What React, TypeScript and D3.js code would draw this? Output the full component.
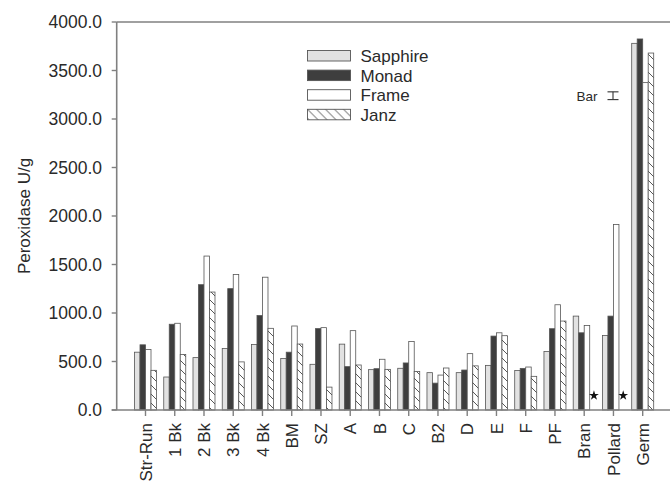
import React from "react";
import * as d3 from "d3";

const categories = ["Str-Run", "1 Bk", "2 Bk", "3 Bk", "4 Bk", "BM", "SZ", "A", "B", "C", "B2", "D", "E", "F", "PF", "Bran", "Pollard", "Germ"];
const seriesNames = ["Sapphire", "Monad", "Frame", "Janz"];
const sapphire = [596, 340, 540, 634, 676, 530, 471, 679, 416, 430, 385, 385, 460, 408, 604, 968, 769, 3780];
const monad = [672, 884, 1292, 1251, 974, 596, 839, 447, 426, 485, 277, 412, 762, 429, 838, 796, 968, 3825];
const frame = [624, 894, 1587, 1397, 1369, 866, 849, 818, 523, 707, 360, 581, 796, 443, 1085, 872, 1912, 3375];
const janz: (number | null)[] = [409, 572, 1216, 496, 842, 680, 236, 464, 419, 398, 433, 455, 766, 347, 917, null, null, 3680];
const yTicks = [0, 500, 1000, 1500, 2000, 2500, 3000, 3500, 4000];
const lsdLow = 3200;
const lsdHigh = 3280;

const W = 670;
const H = 485;
const FONT = "'Liberation Sans', Arial, sans-serif";
const TXT = "#2a2a2a";
const AX = "#808080";
const STROKE = "#555";

export default function App() {
  const series = [sapphire, monad, frame, janz];
  const fills = ["#e2e2e2", "#3e3e3e", "#ffffff", "url(#hatch)"];
  const y = d3.scaleLinear().domain([0, 4000]).range([410, 22]);
  const step = (642.7 - 145.5) / 17;
  const x = d3.scaleBand<string>().domain(categories).range([145.5 - step / 2, 642.7 + step / 2]).paddingInner(0).paddingOuter(0);
  const inner = d3.scaleBand<string>().domain(seriesNames).range([-11, 11]).padding(0);
  const bw = inner.bandwidth();
  const fmt = d3.format(".1f");
  const star = d3.symbol().type(d3.symbolStar).size(30)() as string;
  const axisLeft = 116.7;

  return (
    <svg width={W} height={H} style={{ position: "absolute", left: 0, top: 0, background: "#fff" }} fontFamily={FONT}>
      <defs>
        <pattern id="hatch" patternUnits="userSpaceOnUse" width={9} height={9}>
          <rect width={9} height={9} fill="#fff" />
          <path d="M-2,-2 L11,11 M-2,7 L2,11 M7,-2 L11,2" stroke="#444" strokeWidth={0.9} />
        </pattern>
      </defs>
      <rect x={0} y={0} width={W} height={H} fill="#fff" />

      {/* bars */}
      {categories.map((c, i) => {
        const cx = (x(c) as number) + x.bandwidth() / 2;
        return (
          <g key={c}>
            {series.map((s, k) => {
              const v = s[i];
              const bx = cx + (inner(seriesNames[k]) as number);
              if (v == null) {
                return (
                  <path key={k} d={star} transform={`translate(${bx + bw / 2 + 1.5},${395.5})`} fill="#111" />
                );
              }
              return (
                <rect
                  key={k}
                  x={bx}
                  y={y(v)}
                  width={bw}
                  height={y(0) - y(v)}
                  fill={fills[k]}
                  stroke={STROKE}
                  strokeWidth={0.8}
                />
              );
            })}
          </g>
        );
      })}

      {/* axes frame */}
      <line x1={axisLeft} x2={axisLeft} y1={y(4000)} y2={y(0)} stroke={AX} strokeWidth={1.6} />
      <line x1={axisLeft} x2={W} y1={y(4000)} y2={y(4000)} stroke={AX} strokeWidth={1.6} />
      <line x1={axisLeft - 5} x2={W} y1={y(0)} y2={y(0)} stroke={AX} strokeWidth={1.6} />

      {yTicks.map((t) => (
        <g key={t}>
          <line x1={axisLeft - 5} x2={axisLeft} y1={y(t)} y2={y(t)} stroke={AX} strokeWidth={1.4} />
          <text x={102} y={y(t)} dy="0.36em" textAnchor="end" fontSize={17.5} fill={TXT}>
            {fmt(t)}
          </text>
        </g>
      ))}

      {categories.map((c) => {
        const cx = (x(c) as number) + x.bandwidth() / 2;
        return (
          <g key={c}>
            <line x1={cx} x2={cx} y1={y(0)} y2={y(0) + 6} stroke={AX} strokeWidth={1.4} />
            <text
              transform={`translate(${cx},${423}) rotate(-90)`}
              textAnchor="end"
              dy="0.36em"
              fontSize={17}
              fill={TXT}
            >
              {c}
            </text>
          </g>
        );
      })}

      <text transform={`translate(${24},${216}) rotate(-90)`} textAnchor="middle" dy="0.36em" fontSize={17} fill={TXT}>
        Peroxidase U/g
      </text>

      {/* legend */}
      {seriesNames.map((n, k) => (
        <g key={n} transform={`translate(307.5,${50.5 + k * 19.6})`}>
          <rect x={0} y={0} width={43} height={10.5} fill={fills[k]} stroke={STROKE} strokeWidth={0.9} />
          <text x={53} y={5.5} dy="0.36em" fontSize={17} fill={TXT}>
            {n}
          </text>
        </g>
      ))}

      {/* LSD bar */}
      <text x={576.5} y={96.5} dy="0.36em" fontSize={13.5} fill={TXT}>
        Bar
      </text>
      <g stroke="#333" strokeWidth={1.1}>
        <line x1={613} x2={613} y1={y(lsdHigh)} y2={y(lsdLow)} />
        <line x1={607.5} x2={618.5} y1={y(lsdHigh)} y2={y(lsdHigh)} />
        <line x1={607.5} x2={618.5} y1={y(lsdLow)} y2={y(lsdLow)} />
      </g>
    </svg>
  );
}
